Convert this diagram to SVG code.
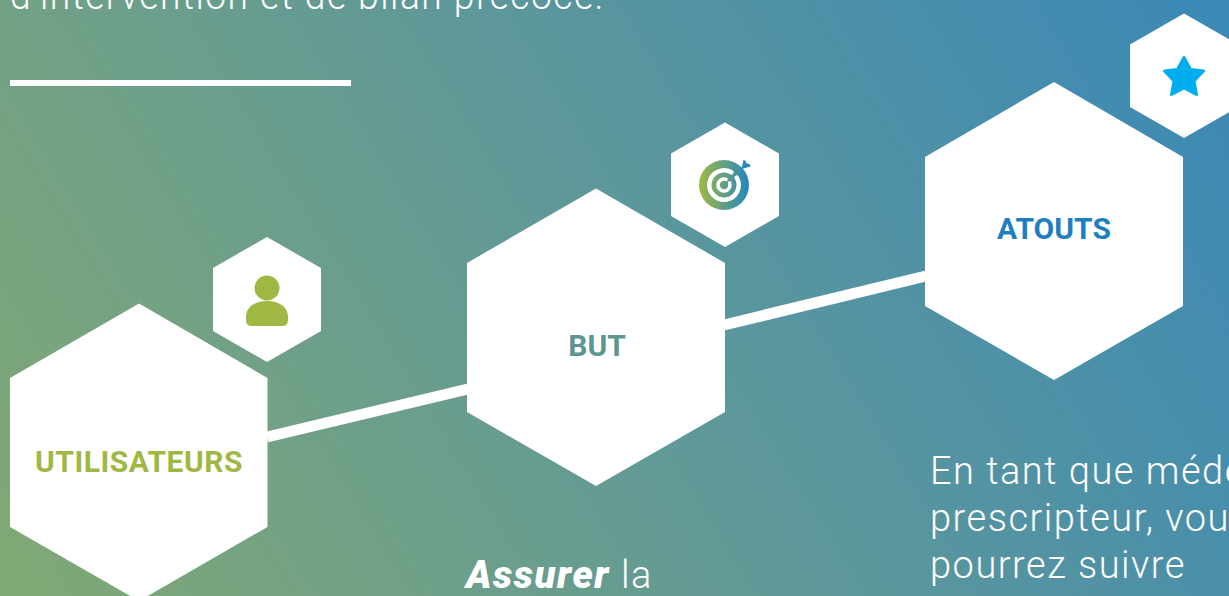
<svg xmlns="http://www.w3.org/2000/svg" width="1229" height="596" viewBox="0 0 1229 596">
<style>
.hex{fill:#fff}
.body{font-family:"Roboto","Liberation Sans",sans-serif;font-weight:300;font-size:38px;fill:#fff;letter-spacing:1.5px}
.lab{font-family:"Roboto","Liberation Sans",sans-serif;font-weight:700;font-size:30px;text-anchor:middle}
.conn{stroke:#fff;stroke-width:11;fill:none}
.w{fill:none;stroke:#fff;stroke-linecap:round}
</style>
<defs>
<linearGradient id="bg" gradientUnits="userSpaceOnUse" x1="60" y1="640" x2="1170" y2="-40">
<stop offset="0" stop-color="#80a876"/><stop offset="0.5" stop-color="#5f9898"/><stop offset="1" stop-color="#3c89b6"/>
</linearGradient>
<linearGradient id="ic" gradientUnits="userSpaceOnUse" x1="699" y1="185" x2="751" y2="185">
<stop offset="0" stop-color="#a0b942"/><stop offset="1" stop-color="#1e84c6"/>
</linearGradient>
</defs>
<rect width="1229" height="596" fill="url(#bg)"/>
<text class="body" x="10" y="9" textLength="595" lengthAdjust="spacingAndGlyphs">d'intervention et de bilan précoce.</text>
<rect x="10" y="80" width="341" height="6" fill="#fff"/>
<g id="connectors">
<line class="conn" x1="267" y1="437" x2="468" y2="389"/>
<line class="conn" x1="724" y1="325" x2="926" y2="276"/>
</g>
<g id="node-utilisateurs">
<polygon class="hex" points="139,303.500 267.500,378 267.500,527 139,601 10,527 10,378"/>
<text class="lab" x="139" y="472" fill="#9fb843" style="letter-spacing:.5px">UTILISATEURS</text>
</g>
<g id="node-but">
<polygon class="hex" points="596,188.500 725,263 725,412 596,486 467,412 467,263"/>
<text class="lab" x="597" y="356" fill="#5f9590">BUT</text>
</g>
<g id="node-atouts">
<polygon class="hex" points="1054,82 1183,157 1183,306 1054,380 925,306 925,157"/>
<text class="lab" x="1054" y="239" fill="#1e7fc0">ATOUTS</text>
</g>
<g id="icon-user">
<polygon class="hex" points="267,237 321,268 321,331 267,362 213,331 213,268"/>
<circle cx="267" cy="288" r="12.500" fill="#9fb843"/>
<path d="M246 320V317C246 307 255 301 267 301S288 307 288 317V320Q288 326 282 326H252Q246 326 246 320Z" fill="#9fb843"/>
</g>
<g id="icon-target">
<polygon class="hex" points="725,122.500 779,153.500 779,216 725,247 671,216 671,153.500"/>
<circle cx="724" cy="185" r="25" fill="url(#ic)"/>
<path class="w" stroke-width="4.500" d="M736.700 177.650A14.700 14.700 0 1 1 731.350 172.300"/>
<path class="w" stroke-width="3.500" d="M729.600 182.900A6 6 0 1 1 726.050 179.400"/>
<path d="M741.500 169L743.500 160Q746 160 746.500 163.500Q750.500 163.500 750.500 166.500Z" fill="#2b87bd"/>
</g>
<g id="icon-star">
<polygon class="hex" points="1184,13.500 1238,44.500 1238,107 1184,138 1130,107 1130,44.500"/>
<path d="M1184 57.500L1190.500 69.500L1203.500 71L1194 81L1196.500 94.500L1184 88L1171.500 94.500L1174 81L1164.500 71L1177.500 69.500Z" fill="#00adef" stroke="#00adef" stroke-width="3" stroke-linejoin="round"/>
</g>
<text x="466" y="588" class="body" font-style="italic" style="font-weight:900" textLength="144" lengthAdjust="spacingAndGlyphs">Assurer</text>
<text x="621" y="588" class="body">la</text>
<text class="body" x="930" y="483.500">En tant que méde</text>
<text class="body" x="930" y="530.500">prescripteur, vou</text>
<text class="body" x="930" y="578">pourrez suivre</text>
</svg>
